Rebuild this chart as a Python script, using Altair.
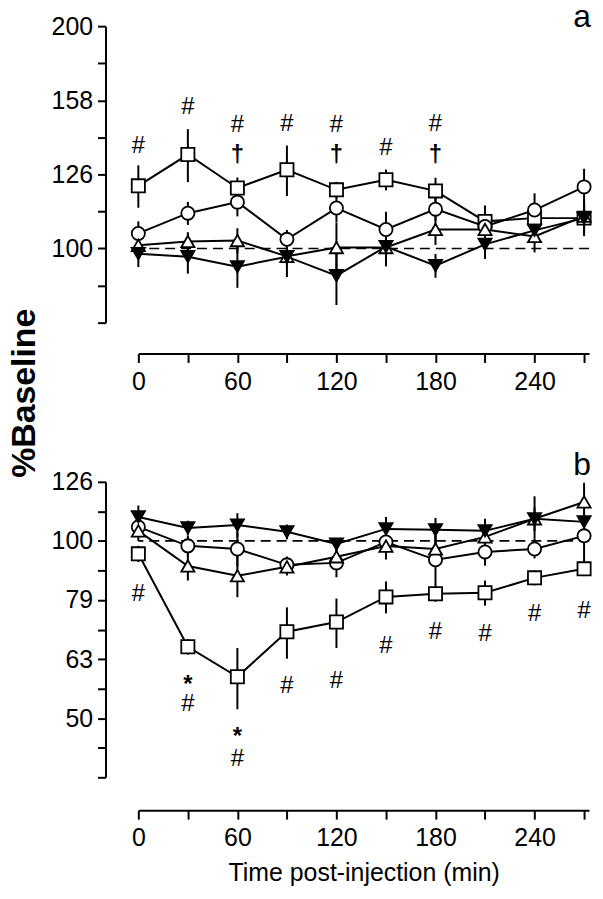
import altair as alt
import pandas as pd

# ---------------- data ----------------
times = [0, 30, 60, 90, 120, 150, 180, 210, 240, 270]
series = ["square", "circle", "triangle-up", "triangle-down"]
fills = ["white", "white", "white", "black"]

# Panel a
a_square = [121.5, 133.9, 120.7, 127.7, 120.0, 123.8, 119.6, 108.8, 109.9, 109.9]
a_square_err = [8, 11, 4, 10, 3, 4, 5, 5.5, 4, 6]
a_circle = [104.8, 111.6, 115.5, 102.9, 113.4, 106.1, 113.0, 107.1, 112.7, 121.1]
a_circle_err = [4, 4, 5, 3, 5, 6, 4, 7, 6, 7]
a_tri_up = [101.0, 102.2, 102.5, 97.6, 100.3, 100.3, 106.1, 106.1, 103.8, 110.6]
a_tri_up_err = [3, 3, 4, 3, 8, 5, 5, 3, 5, 4]
a_tri_down = [98.4, 97.5, 94.5, 97.5, 91.9, 100.6, 94.8, 101.3, 105.8, 109.9]
a_tri_down_err = [4, 5, 6, 6, 8, 6, 3.5, 4.5, 4, 5]

a_ann_t = [0, 30, 60, 90, 120, 150, 180, 60, 120, 180]
a_ann_v = [137.7, 155.1, 146.6, 147.1, 146.6, 136.8, 147.1, 133.9, 133.9, 133.9]
a_ann_txt = ["#", "#", "#", "#", "#", "#", "#", "\u2020", "\u2020", "\u2020"]

a_tick_values = [79.43, 89.13, 100.0, 112.2, 125.89, 141.25, 158.49, 177.83, 199.53]
a_tick_labels = ["", "", "100", "", "126", "", "158", "", "200"]

# Panel b
b_square = [95.1, 66.2, 58.9, 70.2, 72.9, 80.4, 81.4, 81.7, 86.6, 89.7]
b_square_err = [3, 2, 7, 7, 7, 5, 2.5, 4, 2.5, 2.5]
b_circle = [105.6, 98.1, 96.9, 91.1, 91.8, 99.6, 92.9, 95.8, 96.9, 102.0]
b_circle_err = [4, 4, 6.5, 3, 5, 4, 9, 5, 3.5, 10]
b_tri_up = [104.0, 90.7, 87.3, 90.4, 94.0, 98.0, 96.9, 101.6, 109.0, 116.4]
b_tri_up_err = [4, 5, 7, 3, 3, 5, 5, 3, 5, 9]
b_tri_down = [109.8, 105.2, 106.4, 103.6, 98.8, 104.8, 104.4, 104.0, 109.0, 107.7]
b_tri_down_err = [5, 3, 5, 3, 2, 5, 5, 5, 10, 3]

b_ann_t = [0, 30, 30, 60, 60, 90, 120, 150, 180, 210, 240, 270]
b_ann_v = [81.4, 58.4, 53.0, 47.7, 42.8, 56.8, 58.0, 66.4, 70.2, 69.6, 75.2, 76.1]
b_ann_txt = ["#", "*", "#", "*", "#", "#", "#", "#", "#", "#", "#", "#"]

b_tick_values = [39.81, 44.67, 50.12, 56.23, 63.10, 70.79, 79.43, 89.13, 100.0, 112.2, 125.89]
b_tick_labels = ["", "", "50", "", "63", "", "79", "", "100", "", "126"]

x_ticks = [0, 30, 60, 90, 120, 150, 180, 210, 240, 270]
x_domain = [0, 273]
baseline_value = [100]

FONT = "Liberation Sans"
W = 453


def build_df(vals, errs):
    rows = []
    for i, s in enumerate(series):
        for t, v, e in zip(times, vals[i], errs[i]):
            rows.append({"t": t, "v": v, "lo": v - e, "hi": v + e, "s": s})
    return pd.DataFrame(rows)


def label_expr(vals, labels):
    expr = "''"
    for v, l in zip(vals, labels):
        if l:
            expr = f"abs(datum.value - {v}) < 0.05 ? '{l}' : ({expr})"
    return expr


def panel(df, ann, ticks, tick_labels, height, letter_layer,
          x_offset, x_title, extra_layers):
    xscale = alt.Scale(domain=x_domain, nice=False, zero=False)
    yscale = alt.Scale(type="log", domain=[ticks[0], ticks[-1]], nice=False)
    xaxis_kw = dict(values=x_ticks,
                    labelExpr="datum.value % 60 == 0 ? datum.label : ''",
                    offset=x_offset, tickSize=9, tickWidth=2, domainWidth=2,
                    labelPadding=7, labelFontSize=25, labelFont=FONT,
                    labelFlush=False, labelOverlap=False, labelBound=False,
                    grid=False, domainColor="black", tickColor="black",
                    labelColor="black")
    if x_title:
        xaxis = alt.Axis(title=x_title, titleFont=FONT, titleFontSize=25,
                         titleFontWeight="normal", titleColor="black",
                         titlePadding=10, **xaxis_kw)
    else:
        xaxis = alt.Axis(title=None, **xaxis_kw)
    yaxis = alt.Axis(values=ticks, labelExpr=label_expr(ticks, tick_labels),
                     title=None, offset=33, tickSize=8, tickWidth=2,
                     domainWidth=2, labelPadding=5, labelFontSize=25,
                     labelFont=FONT, labelOverlap=False, labelBound=False,
                     grid=False, domainColor="black", tickColor="black",
                     labelColor="black")

    X = lambda f: alt.X(f, type="quantitative", scale=xscale, axis=xaxis)
    Y = lambda f: alt.Y(f, type="quantitative", scale=yscale, axis=yaxis)

    base = alt.Chart(df)
    ref = alt.Chart(pd.DataFrame({"v": baseline_value})).mark_rule(
        color="black", strokeWidth=1.6, strokeDash=[10, 6]).encode(y=Y("v"))
    err = base.mark_rule(color="black", strokeWidth=2).encode(
        x=X("t"), y=Y("lo"), y2="hi")
    lines = base.mark_line(color="black", strokeWidth=2).encode(
        x=X("t"), y=Y("v"), detail="s:N", order="t:Q")
    layers = [ref, err, lines]
    for s, f in zip(series, fills):
        layers.append(
            base.transform_filter(alt.datum.s == s).mark_point(
                shape=s, filled=True, fill=f, stroke="black", strokeWidth=1.8,
                size=175, opacity=1).encode(x=X("t"), y=Y("v")))
    annb = alt.Chart(ann)
    layers.append(annb.transform_filter(alt.datum.txt == "#").mark_text(
        font=FONT, fontSize=24, color="black", baseline="middle").encode(
        x=X("t"), y=Y("v"), text="txt:N"))
    layers.append(annb.transform_filter(alt.datum.txt == "\u2020").mark_text(
        font=FONT, fontSize=24, fontWeight="bold", color="black",
        baseline="middle").encode(x=X("t"), y=Y("v"), text="txt:N"))
    layers.append(annb.transform_filter(alt.datum.txt == "*").mark_text(
        font=FONT, fontSize=24, fontWeight="bold", color="black",
        baseline="middle", dy=6).encode(x=X("t"), y=Y("v"), text="txt:N"))
    layers.append(letter_layer)
    layers += extra_layers
    return alt.layer(*layers).properties(width=W, height=height)


df_a = build_df([a_square, a_circle, a_tri_up, a_tri_down],
                [a_square_err, a_circle_err, a_tri_up_err, a_tri_down_err])
df_b = build_df([b_square, b_circle, b_tri_up, b_tri_down],
                [b_square_err, b_circle_err, b_tri_up_err, b_tri_down_err])
ann_a = pd.DataFrame({"t": a_ann_t, "v": a_ann_v, "txt": a_ann_txt})
ann_b = pd.DataFrame({"t": b_ann_t, "v": b_ann_v, "txt": b_ann_txt})

ytitle = alt.Chart(pd.DataFrame({"k": ["%Baseline"]})).mark_text(
    font=FONT, fontSize=34, fontWeight="bold", color="black", angle=270,
    align="center", baseline="middle").encode(
    x=alt.value(-114), y=alt.value(369), text="k:N")

# panel letters; "a" sits at the very top, drawn on a second (raised) line
letter_a = alt.Chart(pd.DataFrame({"k": ["a"]})).transform_calculate(
    lbl="'|' + datum.k").mark_text(
    font=FONT, fontSize=32, color="black", align="center",
    baseline="alphabetic", lineBreak="|",
    lineHeight=alt.ExprRef(expr="-9.5")).encode(
    x=alt.value(446), y=alt.value(10), text="lbl:N")
letter_b = alt.Chart(pd.DataFrame({"k": ["b"]})).mark_text(
    font=FONT, fontSize=32, color="black", align="center",
    baseline="alphabetic").encode(
    x=alt.value(446), y=alt.value(-7), text="k:N")

pa = panel(df_a, ann_a, a_tick_values, a_tick_labels, 298, letter_a, 31,
           None, [ytitle])
pb = panel(df_b, ann_b, b_tick_values, b_tick_labels, 297, letter_b, 33,
           "Time post-injection (min)", [])

chart = alt.VConcatChart(vconcat=[pa, pb], spacing=160, bounds="flush").properties(
    padding=0,
    background="white",
).configure_view(stroke=None)

chart.save("out.html", embed_options={"renderer": "svg", "actions": False})
